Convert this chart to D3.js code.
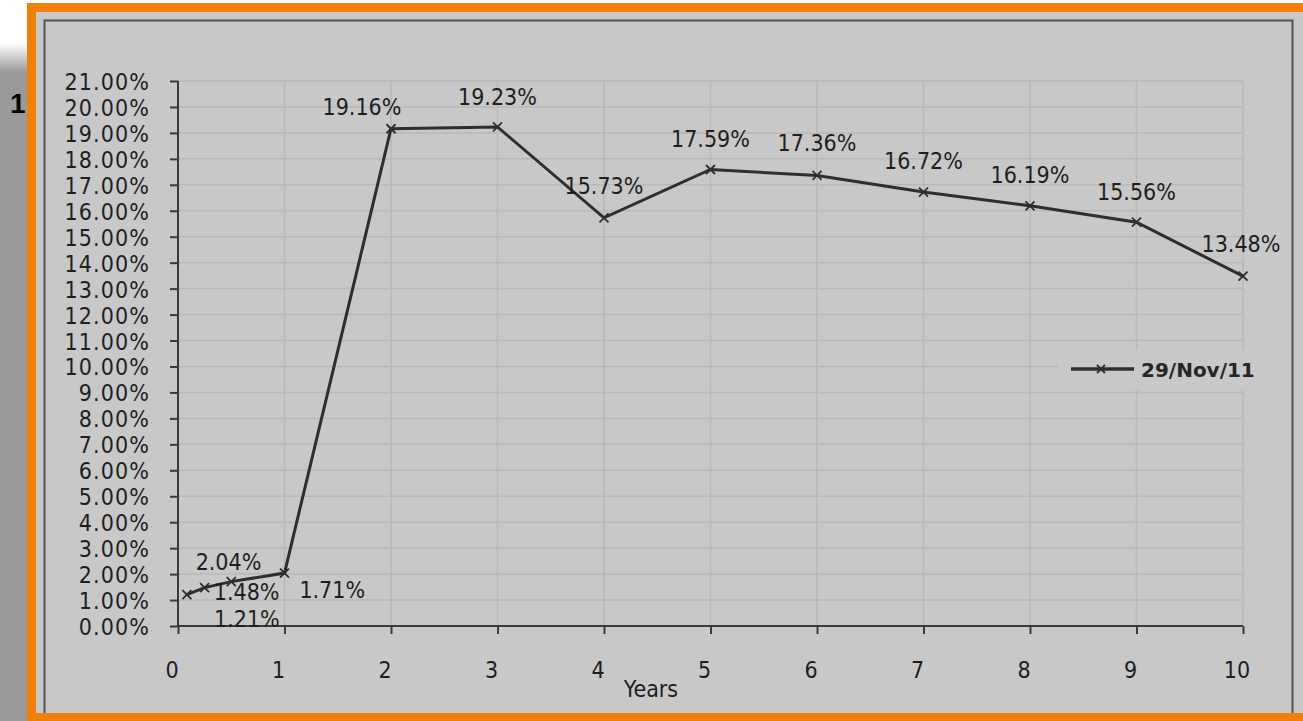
<!DOCTYPE html>
<html>
<head>
<meta charset="utf-8">
<script src="https://cdn.jsdelivr.net/npm/d3@7"></script>
<style>
  body { margin: 0; background: #fff; }
  svg { display: block; }
  .tick-lbl, .data-lbl, .axis-title { font-family: "DejaVu Sans Condensed", "DejaVu Sans", sans-serif; font-stretch: condensed; font-size: 23px; fill: #1e1e1e; }
  .y-lbl { letter-spacing: 1.1px; }
</style>
</head>
<body>
<svg id="chart" width="1303" height="721"></svg>
<script>
/* data */
var YEARS = [1 / 12, 0.25, 0.5, 1, 2, 3, 4, 5, 6, 7, 8, 9, 10];
var RATES = [1.21, 1.48, 1.71, 2.04, 19.16, 19.23, 15.73, 17.59, 17.36, 16.72, 16.19, 15.56, 13.48];
var LABELS = ["1.21%", "1.48%", "1.71%", "2.04%", "19.16%", "19.23%", "15.73%", "17.59%", "17.36%", "16.72%", "16.19%", "15.56%", "13.48%"];
var X_TICKS = [0, 1, 2, 3, 4, 5, 6, 7, 8, 9, 10];
var Y_TICKS = d3.range(0, 22, 1);
var SERIES_NAME = "29/Nov/11";

/* where excel dropped each label relative to its point */
var LABEL_OFFSETS = [[60, 24], [42, 4], [101, 8], [-56, -11], [-29, -22], [0, -30], [0, -32], [0, -30], [0, -32], [0, -31], [0, -31], [0, -30], [-2, -32]];

var svg = d3.select("#chart");

/* page background: white top, grey slide on the left */
var defs = svg.append("defs");
var grad = defs.append("linearGradient").attr("id", "leftFade").attr("x1", 0).attr("y1", 0).attr("x2", 0).attr("y2", 1);
grad.append("stop").attr("offset", "0").attr("stop-color", "#ffffff");
grad.append("stop").attr("offset", "0.06").attr("stop-color", "#ffffff");
grad.append("stop").attr("offset", "0.1").attr("stop-color", "#9a9a9a");
grad.append("stop").attr("offset", "1").attr("stop-color", "#999999");
svg.append("rect").attr("x", 0).attr("y", 0).attr("width", 30).attr("height", 721).attr("fill", "url(#leftFade)");

svg.append("text")
    .attr("x", 10).attr("y", 113)
    .style("font-family", "'Liberation Sans', Arial, sans-serif")
    .style("font-weight", "bold").style("font-size", "28px")
    .attr("fill", "#000")
    .text("1");

/* orange card */
svg.append("rect")
    .attr("x", 31.5).attr("y", 7.5).attr("width", 1280).attr("height", 720)
    .attr("fill", "#c8c8c8").attr("stroke", "#f0800a").attr("stroke-width", 9);

/* chart frame */
svg.append("rect")
    .attr("x", 44.5).attr("y", 20.5).attr("width", 1248).attr("height", 700)
    .attr("fill", "none").attr("stroke", "#555").attr("stroke-width", 2);

/* bottom orange edge above the frame */
svg.append("rect").attr("x", 27).attr("y", 713).attr("width", 1276).attr("height", 8).attr("fill", "#f0800a");

var x = d3.scaleLinear().domain([0, 10]).range([178, 1243]);
var y = d3.scaleLinear().domain([0, 21]).range([626, 81]);

/* gridlines */
var grid = svg.append("g");
grid.selectAll(".hg").data(Y_TICKS.slice(1)).enter().append("line")
    .attr("x1", x(0)).attr("x2", x(10))
    .attr("y1", function (d) { return y(d); }).attr("y2", function (d) { return y(d); })
    .attr("stroke", "#b9b9b9").attr("stroke-width", 1.5);
grid.selectAll(".vg").data(X_TICKS.slice(1)).enter().append("line")
    .attr("y1", y(21)).attr("y2", y(0))
    .attr("x1", function (d) { return x(d); }).attr("x2", function (d) { return x(d); })
    .attr("stroke", "#b9b9b9").attr("stroke-width", 1.5);

/* axes */
var yAxis = svg.append("g")
    .attr("transform", "translate(" + x(0) + ",0)")
    .call(d3.axisLeft(y).tickValues(Y_TICKS).tickSize(8).tickFormat(""));
var xAxis = svg.append("g")
    .attr("transform", "translate(0," + y(0) + ")")
    .call(d3.axisBottom(x).tickValues(X_TICKS).tickSize(8).tickFormat(""));
[xAxis, yAxis].forEach(function (a) {
    a.selectAll("path, line").attr("stroke", "#3a3a3a").attr("stroke-width", 2);
    a.select(".domain").attr("d", a === xAxis ? "M" + x(0) + ",0H" + x(10) : "M0," + y(21) + "V" + y(0));
});

svg.append("g").selectAll("text").data(Y_TICKS).enter().append("text")
    .attr("class", "tick-lbl y-lbl")
    .attr("x", 150).attr("y", function (d) { return y(d) + 9; })
    .attr("text-anchor", "end")
    .text(function (d) { return d.toFixed(2) + "%"; });

svg.append("g").selectAll("text").data(X_TICKS).enter().append("text")
    .attr("class", "tick-lbl")
    .attr("x", function (d) { return x(d) - 6; }).attr("y", 678)
    .attr("text-anchor", "middle")
    .text(function (d) { return d; });

svg.append("text").attr("class", "axis-title")
    .attr("x", 651).attr("y", 697).attr("text-anchor", "middle").text("Years");

/* series */
var pts = YEARS.map(function (yr, i) { return { yr: yr, v: RATES[i], lbl: LABELS[i], off: LABEL_OFFSETS[i] }; });
var line = d3.line().x(function (d) { return x(d.yr); }).y(function (d) { return y(d.v); });

svg.append("path").datum(pts)
    .attr("d", line)
    .attr("fill", "none").attr("stroke", "#2e2e2e").attr("stroke-width", 3);

function cross(sel, s) {
    sel.append("path")
        .attr("d", "M" + (-s) + "," + (-s) + "L" + s + "," + s + "M" + (-s) + "," + s + "L" + s + "," + (-s))
        .attr("stroke", "#2e2e2e").attr("stroke-width", 1.8).attr("fill", "none");
}

svg.append("g").selectAll("g").data(pts).enter().append("g")
    .attr("transform", function (d) { return "translate(" + x(d.yr) + "," + y(d.v) + ")"; })
    .each(function () { cross(d3.select(this), 4.5); });

svg.append("g").selectAll("text").data(pts).enter().append("text")
    .attr("class", "data-lbl")
    .attr("x", function (d) { return x(d.yr) + d.off[0]; })
    .attr("y", function (d) { return y(d.v) + d.off[1] + 8; })
    .attr("text-anchor", "middle")
    .text(function (d) { return d.lbl; });

/* legend */
var lg = svg.append("g");
lg.append("rect").attr("x", 1058).attr("y", 350).attr("width", 204).attr("height", 40).attr("fill", "#c8c8c8");
lg.append("line").attr("x1", 1071).attr("x2", 1134).attr("y1", 369).attr("y2", 369)
    .attr("stroke", "#2e2e2e").attr("stroke-width", 3.5);
cross(lg.append("g").attr("transform", "translate(1101,369)"), 4);
lg.append("text")
    .attr("x", 1141).attr("y", 377)
    .style("font-family", "'DejaVu Sans', sans-serif").style("font-weight", "bold").style("font-size", "20px")
    .attr("fill", "#262626")
    .text(SERIES_NAME);
</script>
</body>
</html>
